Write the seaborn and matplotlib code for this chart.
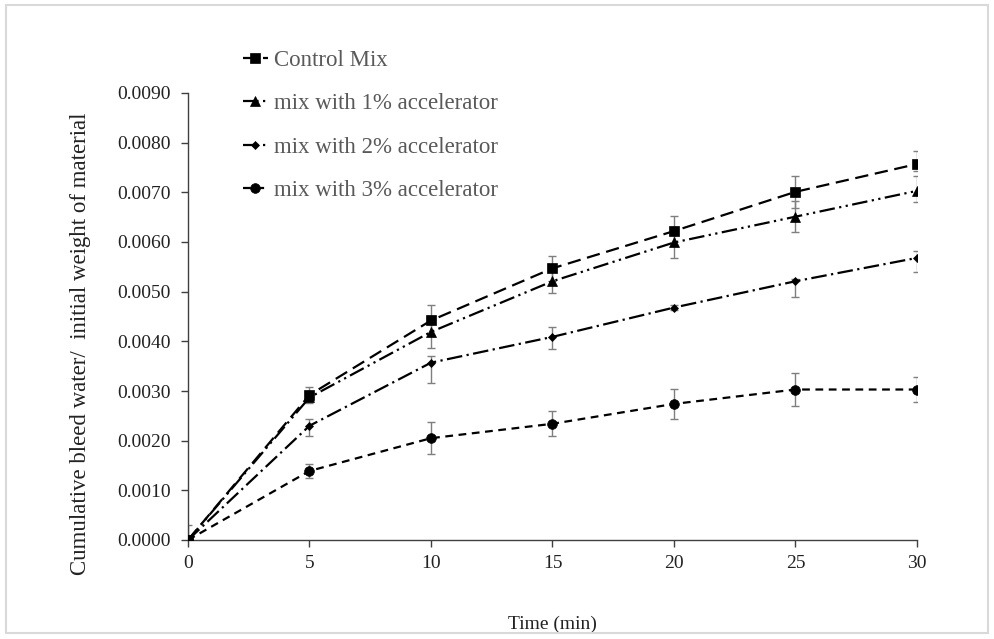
import matplotlib
matplotlib.use("Agg")
import matplotlib.pyplot as plt
import seaborn as sns
import numpy as np
import pandas as pd

# ---- data (values in units of the y axis) ----
time_min = [0, 5, 10, 15, 20, 25, 30]
series_names = ["Control Mix", "mix with 1% accelerator",
                "mix with 2% accelerator", "mix with 3% accelerator"]
control = [0.0, 0.00292, 0.00442, 0.00547, 0.00622, 0.00701, 0.00757]
acc1 = [0.0, 0.00287, 0.00419, 0.00521, 0.00599, 0.00651, 0.00703]
acc2 = [0.0, 0.00230, 0.00357, 0.00409, 0.00468, 0.00521, 0.00568]
acc3 = [0.0, 0.00139, 0.00205, 0.00234, 0.00274, 0.00303, 0.00303]

control_err_lo = [0.0, 0.00017, 0.00032, 0.00025, 0.00030, 0.00032, 0.00015]
control_err_hi = [0.0003, 0.00017, 0.00032, 0.00025, 0.00030, 0.00032, 0.00026]
acc1_err_lo = [0.0, 0.00010, 0.00032, 0.00023, 0.00031, 0.00031, 0.00022]
acc1_err_hi = [0.0, 0.00010, 0.00032, 0.00023, 0.00031, 0.00031, 0.00030]
acc2_err_lo = [0.0, 0.00020, 0.00040, 0.00024, 0.00005, 0.00032, 0.00028]
acc2_err_hi = [0.0, 0.00013, 0.00013, 0.00020, 0.00005, 0.00005, 0.00014]
acc3_err_lo = [0.0, 0.00015, 0.00032, 0.00025, 0.00030, 0.00033, 0.00025]
acc3_err_hi = [0.0, 0.00015, 0.00032, 0.00025, 0.00030, 0.00033, 0.00025]

values = [control, acc1, acc2, acc3]
errs_lo = [control_err_lo, acc1_err_lo, acc2_err_lo, acc3_err_lo]
errs_hi = [control_err_hi, acc1_err_hi, acc2_err_hi, acc3_err_hi]

# ---- styles ----
markers = ["s", "^", "D", "o"]
msizes = [7, 6.5, 4.5, 7]
linestyles = [(0, (6, 3)), (0, (7, 2, 1, 2, 1, 2)), (0, (7, 2, 1, 2)), (0, (3.5, 2.5))]

sns.set_theme(style="white")
plt.rcParams["font.family"] = ["Liberation Serif", "DejaVu Serif"]

fig = plt.figure(figsize=(9.95, 6.39), dpi=100)
ax = fig.add_axes([188 / 995, 1 - 540 / 639, (917 - 188) / 995, (540 - 93) / 639])

for name, vals, lo, hi, mk, ms, ls in zip(series_names, values, errs_lo, errs_hi,
                                          markers, msizes, linestyles):
    df = pd.DataFrame({"t": time_min, "v": vals})
    ax.errorbar(time_min, vals, yerr=[lo, hi], fmt="none", ecolor="#7f7f7f",
                elinewidth=1.0, capsize=3, capthick=1.0, zorder=2)
    sns.lineplot(data=df, x="t", y="v", ax=ax, color="black", linewidth=1.6,
                 linestyle=ls, marker=mk, markersize=ms, markeredgewidth=0.5,
                 markeredgecolor="black", markerfacecolor="black", label=name,
                 zorder=3)

ax.set_xlim(0, 30)
ax.set_ylim(0, 0.009)
ax.set_xticks(np.arange(0, 31, 5))
ax.set_yticks(np.arange(0, 0.00901, 0.001))
ax.set_yticklabels([f"{v:.4f}" for v in np.arange(0, 0.00901, 0.001)])
ax.set_xticklabels([str(v) for v in range(0, 31, 5)])

for side in ["top", "right"]:
    ax.spines[side].set_visible(False)
for side in ["left", "bottom"]:
    ax.spines[side].set_color("#404040")
    ax.spines[side].set_linewidth(1.0)
ax.tick_params(axis="both", which="major", direction="out", length=5, width=1,
               color="#404040", labelsize=14, labelcolor="#222222", bottom=True, left=True)
ax.tick_params(axis="x", pad=6)
ax.tick_params(axis="y", pad=7.5)

ax.set_xlabel("Time (min)", fontsize=14, color="#222222", labelpad=31)
ax.set_ylabel("Cumulative bleed water/  initial weight of material", fontsize=16.5,
              color="#222222")
ax.yaxis.set_label_coords(-0.133, 0.44)

leg = ax.legend(loc="upper left", bbox_to_anchor=(0.075, 1.097), frameon=False,
                fontsize=16.5, labelspacing=0.98, handlelength=1.1, handletextpad=0.25,
                borderaxespad=0, borderpad=0)
for t in leg.get_texts():
    t.set_color("#595959")

# light frame around the chart area
fig.patches.append(plt.Rectangle((6 / 995, 1 - 633 / 639), (988 - 6) / 995, (633 - 5) / 639,
                                 transform=fig.transFigure, fill=False,
                                 edgecolor="#d9d9d9", linewidth=1.5))

fig.savefig("out.png", dpi=100, facecolor="white")
